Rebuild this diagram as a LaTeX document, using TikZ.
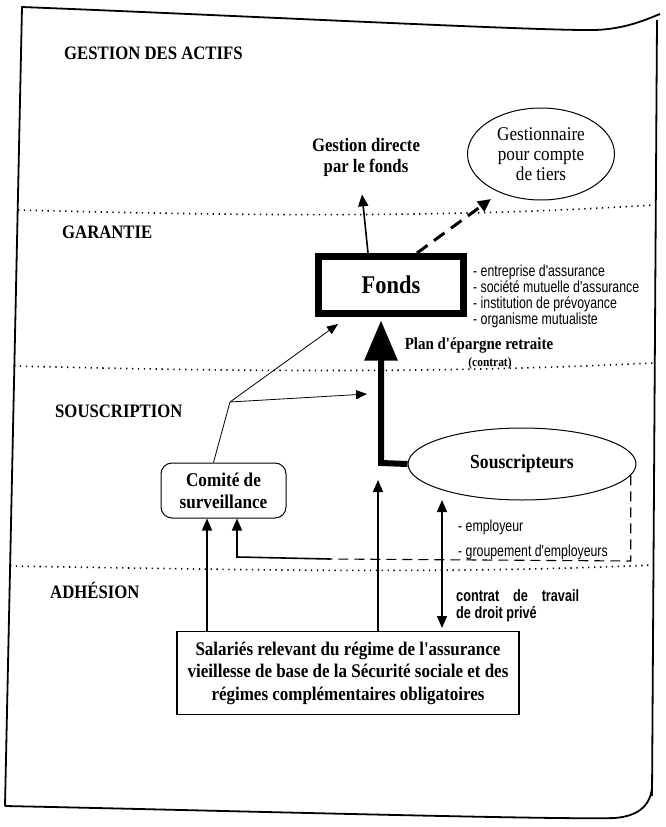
\documentclass[tikz,border=0pt]{standalone}
\usepackage{fontspec}
\setmainfont{Liberation Serif}
\newfontfamily\condserif[FakeStretch=0.88]{Liberation Serif}
\newfontfamily\condsans[FakeStretch=0.77]{Liberation Sans}
\usetikzlibrary{arrows.meta,shapes.geometric}
\begin{document}
\begin{tikzpicture}[x=1pt,y=-1pt,
  sec/.style={font=\condserif\bfseries\fontsize{19}{21}\selectfont, anchor=west, inner sep=0},
  lbl/.style={font=\condserif\bfseries\fontsize{19}{21}\selectfont, align=center, inner sep=0},
  lst/.style={font=\condsans\fontsize{16}{16}\selectfont, anchor=west, inner sep=0, align=left},
  blst/.style={font=\condsans\bfseries\fontsize{16.5}{17}\selectfont, anchor=west, inner sep=0, align=left},
  frame/.style={line width=1.8pt, line join=round},
  arr/.style={-{Triangle[length=12pt,width=10pt]}, line width=1.6pt},
  thinarr/.style={-{Triangle[length=11pt,width=9pt]}, line width=0.8pt},
  dots/.style={line width=1.6pt, dash pattern=on 1.3pt off 4.6pt},
  dsh/.style={line width=1.1pt, dash pattern=on 10pt off 6pt},
]
\useasboundingbox (0,0) rectangle (666,827);
\fill[white] (0,0) rectangle (666,827);

% frame
\draw[frame] (5,806) -- (22,7) .. controls (250,16) and (540,31) .. (595,30)
  .. controls (625,29) and (645,20) .. (660,14);
\draw[frame] (657,20) -- (652,796);
\draw[frame] (5,806) .. controls (200,810) and (560,820) .. (615,818)
  .. controls (638,816) and (650,806) .. (652,788);

% section separators
\draw[dots] (18,210) .. controls (250,216) and (450,218) .. (653,205);
\draw[dots] (14,366) .. controls (250,372) and (450,373) .. (653,363);
\draw[dots] (10,566) .. controls (250,570) and (450,574) .. (653,565);

% section labels
\node[sec] (s1) at (64,53) {GESTION DES ACTIFS};
\node[sec] (s2) at (62,232) {GARANTIE};
\node[sec] (s3) at (55,411) {SOUSCRIPTION};
\node[sec] (s4) at (50,590) {ADHÉSION};

% nodes
\node[lbl] (gd) at (366,157) {Gestion directe\\par le fonds};
\node[ellipse, draw, line width=1pt, minimum width=147pt, minimum height=92pt, inner sep=0,
      align=center, font=\condserif\fontsize{19.5}{20}\selectfont] (gest) at (541,154)
      {Gestionnaire\\pour compte\\de tiers};
\node[draw, line width=7pt, minimum width=145pt, minimum height=57pt, inner sep=0,
      font=\condserif\bfseries\fontsize{25.5}{27}\selectfont] (fonds) at (391,285) {Fonds};
\node[lst] (liste) at (473,296) {- entreprise d'assurance\\- société mutuelle d'assurance\\- institution de prévoyance\\- organisme mutualiste};
\node[font=\condserif\bfseries\fontsize{17}{19}\selectfont, inner sep=0] (plan) at (479,345) {Plan d'épargne retraite};
\node[font=\condserif\bfseries\fontsize{13}{15}\selectfont, inner sep=0] (contrat) at (490,363) {(contrat)};
\node[draw, rounded corners=11pt, line width=1pt, minimum width=125pt, minimum height=55pt,
      inner sep=0, align=center, font=\condserif\bfseries\fontsize{19.5}{22}\selectfont] (com) at (223.5,490.5) {Comité de\\surveillance};
\node[ellipse, draw, line width=1pt, minimum width=228pt, minimum height=72pt, inner sep=0,
      font=\condserif\bfseries\fontsize{20}{22}\selectfont] (sous) at (522,464) {Souscripteurs};
\node[lst] (emp1) at (458,527) {- employeur};
\node[lst] (emp2) at (458,552) {- groupement d'employeurs};
\node[blst] (ctr) at (456,606) {\makebox[123pt][s]{contrat de travail}\\de droit privé};
\node[draw, line width=1.2pt, minimum width=342pt, minimum height=83pt, inner sep=0,
      font=\condserif\bfseries\fontsize{19.3}{22.5}\selectfont, align=center] (sal) at (348,673)
      {Salariés relevant du régime de l'assurance\\vieillesse de base de la Sécurité sociale et des\\régimes complémentaires obligatoires};

% coordinates
\coordinate (bend) at (381,463);
\coordinate (j) at (230,402);
\coordinate (pe) at (367,394);
\coordinate (ftip) at (338,324);
\coordinate (gtip) at (491,199);
\coordinate (k) at (237,557);
\coordinate (dcorner) at (629,561);
\coordinate (mid) at (378,480);
\coordinate (dtop) at (442,500);
\coordinate (dbot) at (442,628);

% connectors
\draw[arr] ([xshift=-23pt]fonds.north) -- ([xshift=-4pt,yshift=-18pt]gd.south);
\draw[line width=3pt, dash pattern=on 13pt off 8pt, -{Triangle[length=13pt,width=12pt]}]
  ([xshift=26pt]fonds.north) -- (gtip);
\draw[line width=6pt, line join=miter, -{Triangle[length=40pt,width=32pt]}]
  (sous.west) -- (bend) -- ([yshift=-3.5pt]bend |- fonds.south);
\draw[line width=0.8pt] ([xshift=-10pt]com.north) -- (j);
\draw[thinarr] (j) -- (ftip);
\draw[thinarr] (j) -- (pe);
\draw[arr] ([xshift=-141pt]sal.north) -- ([xshift=-16.5pt]com.south);
\draw[dsh] (sous.-6) -- (sous.-6 |- dcorner) -- (330,559);
\draw[arr] (330,559) -- (k) -- (k |- com.south);
\draw[arr] ([xshift=30pt]sal.north) -- (mid);
\draw[line width=1.6pt, {Triangle[length=12pt,width=10pt]}-{Triangle[length=12pt,width=10pt]}] (dtop) -- (dbot);
\end{tikzpicture}
\end{document}
